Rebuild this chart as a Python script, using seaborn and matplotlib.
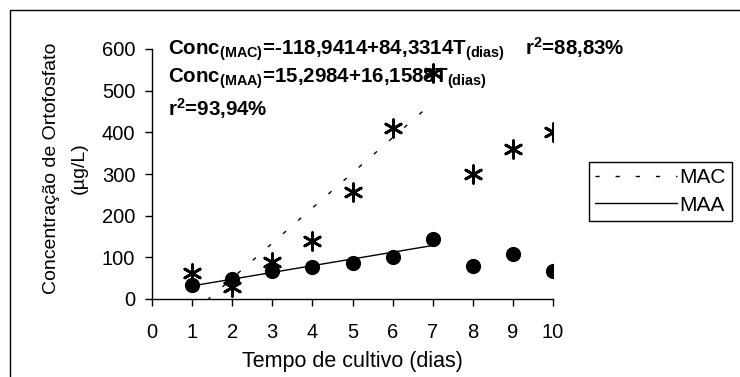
import numpy as np
import pandas as pd
import matplotlib
matplotlib.use("Agg")
import matplotlib.pyplot as plt
import seaborn as sns
from matplotlib.lines import Line2D
from matplotlib.patches import Rectangle

# ---- data ----
dias = [1, 2, 3, 4, 5, 6, 7, 8, 9, 10]
mac = [62, 29, 89, 139, 257, 410, 543, 300, 360, 401]
maa = [34, 48, 67, 77, 87, 100, 144, 79, 108, 67]
mac_coef = [-118.9414, 84.3314]   # intercept, slope
maa_coef = [15.2984, 16.1588]
fit_days = [1, 7]
x_ticks = list(range(0, 11))
y_ticks = list(range(0, 601, 100))
series_names = ["MAC", "MAA"]

sns.set_style("ticks")
plt.rcParams["font.family"] = ["Liberation Sans", "DejaVu Sans"]
plt.rcParams["mathtext.fontset"] = "custom"
plt.rcParams["mathtext.rm"] = "Liberation Sans"
plt.rcParams["mathtext.bf"] = "Liberation Sans:bold"
plt.rcParams["mathtext.it"] = "Liberation Sans:italic"
plt.rcParams["mathtext.default"] = "bf"
for k in ["text.color", "axes.labelcolor", "xtick.color", "ytick.color",
          "xtick.labelcolor", "ytick.labelcolor"]:
    plt.rcParams[k] = "black"

W, H = 740, 377
fig = plt.figure(figsize=(W / 100, H / 100), dpi=100)
ax = fig.add_axes([152 / W, 1 - 299 / H, (553 - 152) / W, (299 - 49) / H])

df = pd.DataFrame({"dias": dias, "MAC": mac, "MAA": maa})

sns.scatterplot(data=df, x="dias", y="MAC", ax=ax, marker=(6, 2, 0), s=160,
                color="black", linewidth=2, edgecolor="black", zorder=3)
sns.scatterplot(data=df, x="dias", y="MAA", ax=ax, marker="o", s=120,
                color="black", edgecolor="black", linewidth=0, zorder=3)

fit = pd.DataFrame({"dias": fit_days})
fit["MAC"] = mac_coef[0] + mac_coef[1] * fit["dias"]
fit["MAA"] = maa_coef[0] + maa_coef[1] * fit["dias"]
sns.lineplot(data=fit, x="dias", y="MAC", ax=ax, color="black", linewidth=1,
             zorder=2).lines[-1].set_dashes((3, 11.5))
sns.lineplot(data=fit, x="dias", y="MAA", ax=ax, color="black", linewidth=1,
             zorder=2)

ax.set_xlim(0, 10)
ax.set_ylim(0, 600)
ax.set_xticks(x_ticks)
ax.set_yticks(y_ticks)
ax.tick_params(axis="both", labelsize=14.5, length=5, width=1,
               direction="out")
ax.tick_params(axis="y", pad=7)
ax.tick_params(axis="x", pad=12)
for s in ["top", "right"]:
    ax.spines[s].set_visible(False)
for s in ["left", "bottom"]:
    ax.spines[s].set_color("black")
    ax.spines[s].set_linewidth(1)

ax.set_xlabel("Tempo de cultivo (dias)", fontsize=15.5)
ax.xaxis.set_label_coords(0.5, -0.21)
ax.set_ylabel("Concentração de Ortofosfato\n(µg/L)", fontsize=14,
              linespacing=1.85)
ax.yaxis.set_label_coords(-0.16, 0.522)

# equations
fs = 14.8
fig.text(168 / W, 1 - 55 / H,
         r"Conc$_{(MAC)}$=-118,9414+84,3314T$_{(dias)}$",
         fontsize=fs, fontweight="bold", va="baseline", ha="left")
fig.text(525 / W, 1 - 55 / H, r"r$^{2}$=88,83%",
         fontsize=fs, fontweight="bold", va="baseline", ha="left")
fig.text(168 / W, 1 - 83 / H,
         r"Conc$_{(MAA)}$=15,2984+16,1588T$_{(dias)}$",
         fontsize=fs, fontweight="bold", va="baseline", ha="left")
fig.text(168 / W, 1 - 116 / H, r"r$^{2}$=93,94%",
         fontsize=fs, fontweight="bold", va="baseline", ha="left")

# legend
handles = [Line2D([], [], color="black", linewidth=1, dashes=(3, 11.5)),
           Line2D([], [], color="black", linewidth=1)]
leg = fig.legend(handles, series_names, loc="upper left",
                 bbox_to_anchor=(589 / W, 1 - 162 / H), fontsize=15,
                 frameon=True, fancybox=False, handlelength=3.9,
                 handletextpad=0.15, borderpad=0.3, labelspacing=0.4,
                 borderaxespad=0, framealpha=1)
leg.get_frame().set_edgecolor("black")
leg.get_frame().set_linewidth(1)

# outer frame (cropped on right/bottom)
fig.patches.append(Rectangle((10 / W, -0.2), 1.2, 1 - 10 / H + 0.2,
                             transform=fig.transFigure, fill=False,
                             edgecolor="black", linewidth=1))

fig.savefig("out.png", dpi=100)
